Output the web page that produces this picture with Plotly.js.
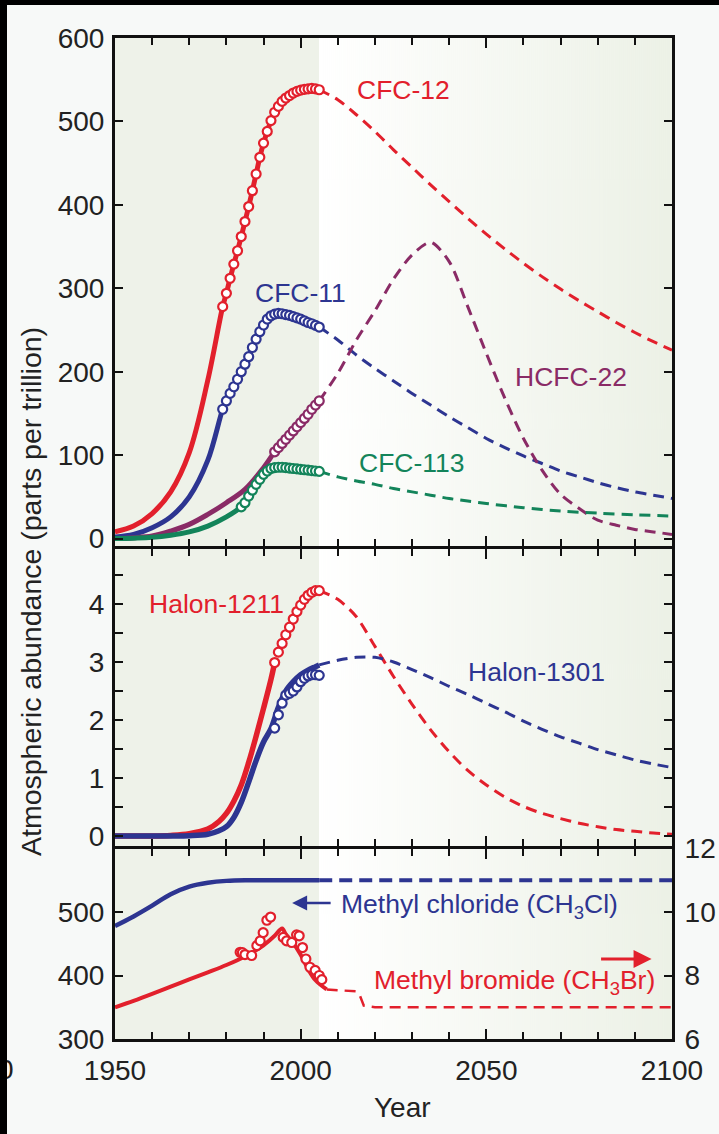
<!DOCTYPE html>
<html><head><meta charset="utf-8">
<script src="https://cdn.plot.ly/plotly-3.0.1.min.js"></script>
<style>
html,body{margin:0;padding:0;background:#000;width:719px;height:1134px;overflow:hidden}
#chart{position:absolute;left:7px;top:5px;width:712px;height:1129px}
</style></head><body><div id="chart"></div>
<script>
// ---------- DATA ----------
// CFC-12 (ppt)
const cfc12ModelYears = [1950,1955,1960,1965,1970,1975,1979];
const cfc12Model      = [8,15,30,56,103,190,278];
const obsYears1979 = [1979,1980,1981,1982,1983,1984,1985,1986,1987,1988,1989,1990,1991,1992,1993,1994,1995,1996,1997,1998,1999,2000,2001,2002,2003,2004,2005];
const cfc12Obs = [278,294,312,329,345,362,380,398,417,437,457,474,488,501,511,518,524,528,531,534,536,537.5,538.5,539,539.5,539,538];
const futureYears = [2005,2010,2015,2020,2025,2030,2035,2040,2045,2050,2055,2060,2065,2070,2075,2080,2085,2090,2095,2100];
const cfc12Future = [538,526,508,488,466,445,424,404,384,365,347,330,314,299,285,272,259,247,236,226];

// CFC-11
const cfc11ModelYears = [1950,1955,1960,1965,1970,1975,1979];
const cfc11Model      = [2,5,13,26,50,94,155];
const cfc11Obs = [155,165,174,182,191,200,209,218,229,239,248,256,263,267,269,270,269.5,268.5,267.5,266,264.5,263,261,259,257.5,255.5,253.5];
const cfc11Future = [253.5,238,220,204,189,174,160,146,133,120,109,99,90,81,74,67,61,56,52,48];

// HCFC-22
const hcfc22ModelYears = [1950,1955,1960,1965,1970,1975,1980,1985,1990,1993];
const hcfc22Model      = [0,1,3,9,17,29,43,59,85,104];
const hcfc22ObsYears = [1993,1994,1995,1996,1997,1998,1999,2000,2001,2002,2003,2004,2005];
const hcfc22Obs      = [104,109,114,119,124,129,134,139,144,149,155,160,165];
const hcfc22Future   = [165,198,238,273,311,340,355,332,278,222,168,120,82,53,36,22,16,11,8,5];

// CFC-113
const cfc113ModelYears = [1950,1955,1960,1965,1970,1975,1980,1984];
const cfc113Model      = [0,0.5,1.5,4,8,15,26,38];
const cfc113ObsYears = [1984,1985,1986,1987,1988,1989,1990,1991,1992,1993,1994,1995,1996,1997,1998,1999,2000,2001,2002,2003,2004,2005];
const cfc113Obs      = [38,43,51,58,65,71,77,81,84,85,85.5,85.5,85,84.5,84,83.5,83,82.5,82,81.5,81,80.5];
const cfc113FutureYears = [2005,2010,2015,2020,2025,2030,2035,2040,2045,2050,2060,2070,2080,2090,2100];
const cfc113Future      = [80.5,74,69,65,60,56,52,48,45,42,37,33,30.5,28.5,27];

// Halon-1211
const h1211ModelYears = [1950,1960,1965,1970,1975,1978,1980,1982,1984,1986,1988,1990,1992,1993];
const h1211Model      = [0,0,0.01,0.04,0.12,0.25,0.39,0.6,0.88,1.27,1.72,2.2,2.7,2.99];
const halonObsYears = [1993,1994,1995,1996,1997,1998,1999,2000,2001,2002,2003,2004,2005];
const h1211Obs      = [2.99,3.17,3.32,3.47,3.6,3.74,3.87,3.98,4.08,4.15,4.2,4.23,4.23];
const h1211Future   = [4.23,4.08,3.78,3.27,2.75,2.27,1.83,1.45,1.13,0.88,0.67,0.51,0.39,0.3,0.22,0.16,0.11,0.08,0.05,0.03];

// Halon-1301
const h1301ModelYears = [1950,1965,1970,1975,1978,1980,1982,1984,1986,1988,1990,1992,1994,1996,1998,2000,2002,2004,2005];
const h1301Model      = [0,0,0.005,0.03,0.09,0.16,0.32,0.58,0.93,1.3,1.62,1.85,2.22,2.5,2.66,2.78,2.86,2.92,2.95];
const h1301Obs        = [1.86,2.09,2.29,2.43,2.46,2.5,2.57,2.66,2.72,2.76,2.78,2.78,2.77];
const h1301Future     = [2.95,3.03,3.08,3.08,3.0,2.87,2.73,2.58,2.44,2.29,2.14,1.98,1.84,1.71,1.6,1.49,1.4,1.31,1.24,1.18];

// Methyl chloride (ppt, left axis)
const ch3clModelYears = [1950,1955,1960,1965,1970,1975,1980,1985,1990,2000,2005];
const ch3clModel      = [478,493,510,528,540,546,549,550,550,550,550];
const ch3clFutureYears = [2005,2100];
const ch3clFuture      = [550,550];

// Methyl bromide (ppt, right axis)
const ch3brModelYears = [1950,1955,1960,1965,1970,1975,1980,1985,1990,1993,1995,1996,1998,2000,2002,2004,2007];
const ch3brModel      = [7.0,7.2,7.42,7.65,7.88,8.1,8.33,8.6,8.95,9.25,9.48,9.3,9.02,8.65,8.2,7.85,7.56];
const ch3brObsYears = [1983.7,1984.3,1985.0,1986.8,1988.2,1989.1,1989.9,1990.9,1991.9,1995.3,1996.2,1997.6,1998.9,1999.6,2000.5,2001.4,2002.5,2003.9,2005.0,2005.7];
const ch3brObs      = [8.73,8.72,8.66,8.63,8.94,9.09,9.35,9.74,9.84,9.2,9.09,9.04,9.28,9.25,8.88,8.52,8.26,8.16,8.0,7.87];
const ch3brFutureYears = [2007,2010,2015,2016,2017,2020,2100];
const ch3brFuture      = [7.56,7.53,7.5,7.35,7.05,7.0,7.0];

const xTickVals = [1950,2000,2050,2100];

// ---------- STYLE ----------
const RED='#e2202c', BLUE='#2d3591', PURPLE='#8a2b66', GREEN='#13845a';
const FONT='Liberation Sans, Arial, Helvetica, sans-serif';
const DASH='11px,7px';

function model(x,y,color,xa,ya,w){return {x:x,y:y,xaxis:xa,yaxis:ya,mode:'lines',line:{color:color,width:w||4.5,shape:'spline',smoothing:1},hoverinfo:'skip'};}
function future(x,y,color,xa,ya,shape){return {x:x,y:y,xaxis:xa,yaxis:ya,mode:'lines',line:{color:color,width:3,dash:DASH,shape:shape||'spline',smoothing:0.8},hoverinfo:'skip'};}
function obs(x,y,color,xa,ya){return {x:x,y:y,xaxis:xa,yaxis:ya,mode:'markers',marker:{symbol:'circle',size:9,color:'#ffffff',line:{color:color,width:2.2}},hoverinfo:'skip'};}
// model line continues underneath the observations
const join=(a,b)=>a.concat(b.slice(1));

const traces = [
  // panel 1 (x3,y3)
  model(join(cfc12ModelYears,obsYears1979),join(cfc12Model,cfc12Obs),RED,'x3','y3',5),
  future(futureYears,cfc12Future,RED,'x3','y3'),
  model(join(cfc11ModelYears,obsYears1979),join(cfc11Model,cfc11Obs),BLUE,'x3','y3',5),
  future(futureYears,cfc11Future,BLUE,'x3','y3'),
  model(join(hcfc22ModelYears,hcfc22ObsYears),join(hcfc22Model,hcfc22Obs),PURPLE,'x3','y3',5),
  future(futureYears,hcfc22Future,PURPLE,'x3','y3'),
  model(join(cfc113ModelYears,cfc113ObsYears),join(cfc113Model,cfc113Obs),GREEN,'x3','y3',5),
  future(cfc113FutureYears,cfc113Future,GREEN,'x3','y3'),
  obs(obsYears1979,cfc12Obs,RED,'x3','y3'),
  obs(obsYears1979,cfc11Obs,BLUE,'x3','y3'),
  obs(hcfc22ObsYears,hcfc22Obs,PURPLE,'x3','y3'),
  obs(cfc113ObsYears,cfc113Obs,GREEN,'x3','y3'),
  // panel 2 (x2,y2)
  model(h1211ModelYears,h1211Model,RED,'x2','y2',5.5),
  future(futureYears,h1211Future,RED,'x2','y2'),
  model(h1301ModelYears,h1301Model,BLUE,'x2','y2',5.5),
  future(futureYears,h1301Future,BLUE,'x2','y2'),
  obs(halonObsYears,h1211Obs,RED,'x2','y2'),
  obs(halonObsYears,h1301Obs,BLUE,'x2','y2'),
  // panel 3 (x,y / y4)
  model(ch3clModelYears,ch3clModel,BLUE,'x','y',4.5),
  future(ch3clFutureYears,ch3clFuture,BLUE,'x','y','linear'),
  model(ch3brModelYears,ch3brModel,RED,'x','y4',4),
  future(ch3brFutureYears,ch3brFuture,RED,'x','y4','linear'),
  obs(ch3brObsYears,ch3brObs,RED,'x','y4')
];
traces[19].line.width=4; traces[19].line.dash='13px,7px';
traces[21].line.width=2.5;

// ---------- BACKGROUND (shaded history / gradient future) ----------
const bw=557, split=Math.round((2005-1950)/150*bw);
const cv=document.createElement('canvas'); cv.width=bw; cv.height=4;
const cx=cv.getContext('2d');
cx.fillStyle='#eef2e9'; cx.fillRect(0,0,split,4);
const gr=cx.createLinearGradient(split,0,bw,0);
gr.addColorStop(0,'#ffffff'); gr.addColorStop(1,'#ecf1e6');
cx.fillStyle=gr; cx.fillRect(split,0,bw-split,4);
const bgURL=cv.toDataURL('image/png');

// ---------- AXES ----------
const AX={showline:true,linewidth:3,linecolor:'#111',ticks:'inside',tickcolor:'#111',tickwidth:2,showgrid:false,zeroline:false,
  tickfont:{family:FONT,size:28,color:'#222'}};
function xax(anchor,labels){return Object.assign({},AX,{anchor:anchor,domain:[0,1],range:[1950,2100],mirror:'ticks',
  tickmode:'array',tickvals:xTickVals,ticklen:10,showticklabels:labels,ticklabelstandoff:4,
  minor:{dtick:10,tick0:1950,ticks:'inside',ticklen:7,tickwidth:2,tickcolor:'#111',showgrid:false}});}

// panel domains (paper fractions), leaving a 3px gap so that the shared frame lines coincide
const P=1001;
const dom3=[0,190.5/P], dom2=[193.5/P,490.5/P], dom1=[493.5/P,1];
const layout={
  width:712,height:1129,
  margin:{l:108,r:47,t:33,b:95},
  paper_bgcolor:'#f7f9f8',plot_bgcolor:'rgba(0,0,0,0)',
  showlegend:false,
  font:{family:FONT,size:28,color:'#222'},
  images:[{source:bgURL,xref:'paper',yref:'paper',x:0,y:1,sizex:1,sizey:1,sizing:'stretch',xanchor:'left',yanchor:'top',layer:'below'}],
  xaxis:xax('y',true),
  xaxis2:xax('y2',false),
  xaxis3:xax('y3',false),
  yaxis:Object.assign({},AX,{domain:dom3,range:[300,600],tickmode:'array',tickvals:[300,400,500],ticklen:8,anchor:'x',ticklabelstandoff:2}),
  yaxis4:Object.assign({},AX,{overlaying:'y',side:'right',anchor:'x',range:[6,12],tickmode:'array',tickvals:[6,8,10,12],ticklen:8,ticklabelstandoff:4}),
  yaxis2:Object.assign({},AX,{domain:dom2,range:[-0.164,4.957],tickmode:'array',tickvals:[0,1,2,3,4],ticklen:8,mirror:'ticks',anchor:'x2',ticklabelstandoff:2,
    minor:{tickmode:'array',tickvals:[0.5,1.5,2.5,3.5,4.5],ticks:'inside',ticklen:8,tickwidth:2,tickcolor:'#111'}}),
  yaxis3:Object.assign({},AX,{domain:dom1,range:[-8.3,600],tickmode:'array',tickvals:[0,100,200,300,400,500,600],ticklen:8,mirror:'ticks',anchor:'x3',ticklabelstandoff:2}),
  annotations:[]
};

function A(text,x,y,xa,ya,color,extra){return Object.assign({text:text,x:x,y:y,xref:xa,yref:ya,showarrow:false,xanchor:'left',yanchor:'middle',
  font:{family:FONT,size:26.5,color:color}},extra||{});}
const pxX=px=>(px-7-108)/557, pxY=py=>(1034-(py-5))/1001;
layout.annotations.push(
  A('CFC-12',2014.6,537.6,'x3','y3',RED),
  A('CFC-11',1987.2,294,'x3','y3',BLUE),
  A('HCFC-22',2057.1,194,'x3','y3',PURPLE),
  A('CFC-113',2015.1,90,'x3','y3',GREEN),
  A('Halon-1211',1958.5,4.0,'x2','y2',RED),
  A('Halon-1301',2044.5,2.83,'x2','y2',BLUE),
  A('Methyl chloride (CH<sub>3</sub>Cl)',2010.4,509,'x','y',BLUE),
  A('Methyl bromide (CH<sub>3</sub>Br)',2019.3,390,'x','y',RED),
  {text:'',x:1997.7,y:514,xref:'x',yref:'y',ax:40,ay:0,showarrow:true,arrowhead:2,arrowsize:1.2,arrowwidth:2.5,arrowcolor:BLUE},
  {text:'',x:2094.5,y:426,xref:'x',yref:'y',ax:-52,ay:0,showarrow:true,arrowhead:2,arrowsize:1.2,arrowwidth:3,arrowcolor:RED},
  {text:'Atmospheric abundance (parts per trillion)',xref:'paper',yref:'paper',x:pxX(31),y:pxY(592),textangle:-90,showarrow:false,
    xanchor:'center',yanchor:'middle',font:{family:FONT,size:28.5,color:'#222'}},
  {text:'Year',xref:'paper',yref:'paper',x:pxX(402),y:pxY(1107),showarrow:false,xanchor:'center',yanchor:'middle',font:{family:FONT,size:28,color:'#222'}},
  {text:'0',xref:'paper',yref:'paper',x:pxX(16),y:pxY(1069),showarrow:false,xanchor:'right',yanchor:'middle',font:{family:FONT,size:28,color:'#222'}}
);

Plotly.newPlot('chart',traces,layout,{staticPlot:true,displayModeBar:false});
</script></body></html>
